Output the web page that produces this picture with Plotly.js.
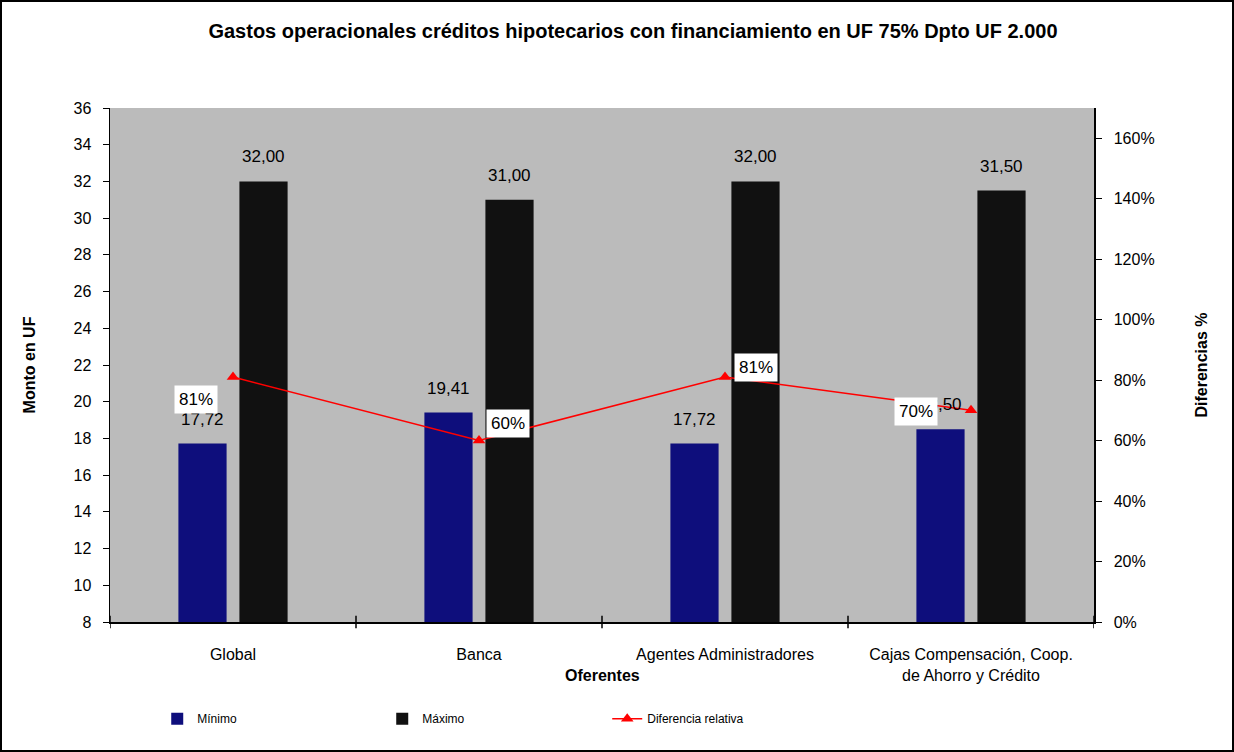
<!DOCTYPE html>
<html>
<head>
<meta charset="utf-8">
<script src="https://cdn.plot.ly/plotly-3.0.1.min.js"></script>
<style>
html,body{margin:0;padding:0;background:#fff;}
#wrap{position:relative;width:1234px;height:752px;}
#chart{width:1234px;height:752px;}
#frame{position:absolute;left:0;top:0;width:1234px;height:752px;box-sizing:border-box;border:2px solid #000;pointer-events:none;}
</style>
</head>
<body>
<div id="wrap"><div id="chart"></div><div id="frame"></div></div>
<script>
const categories = ["Global", "Banca", "Agentes Administradores", "Cajas Compensación, Coop.<br>de Ahorro y Crédito"];
const minimo = [17.72, 19.41, 17.72, 18.50];
const maximo = [32.00, 31.00, 32.00, 31.50];
const diferencia = [0.81, 0.60, 0.81, 0.70];
const seriesNames = ["Mínimo", "Máximo", "Diferencia relativa"];
const leftTicks = [8,10,12,14,16,18,20,22,24,26,28,30,32,34,36];
const rightTicks = [0,0.2,0.4,0.6,0.8,1.0,1.2,1.4,1.6];

const FONT = "Liberation Sans, Arial, sans-serif";
const idx = categories.map((c,i)=>i);

const traces = [
  {type:"bar", name:seriesNames[0], x:idx, y:minimo, marker:{color:"#0E0E7C"}, hoverinfo:"y"},
  {type:"bar", name:seriesNames[1], x:idx, y:maximo, marker:{color:"#111111"}, hoverinfo:"y"},
  {type:"scatter", mode:"lines+markers", name:seriesNames[2], x:idx, y:diferencia, yaxis:"y2",
   line:{color:"#FF0000", width:1.5}, marker:{symbol:"triangle-up", size:11, color:"#FF0000"}}
];

const fmt = v => v.toFixed(2).replace(".", ",");
const annotations = [];
const off = 0.124;
minimo.forEach((v,i)=>annotations.push({x:i-off, y:v, xref:"x", yref:"y", text:fmt(v), showarrow:false, yanchor:"bottom", yshift:13, font:{size:17, color:"#000"}}));
maximo.forEach((v,i)=>annotations.push({x:i+off, y:v, xref:"x", yref:"y", text:fmt(v), showarrow:false, yanchor:"bottom", yshift:13, font:{size:17, color:"#000"}}));
const pctShift = [[-37,-22],[29,17],[31,10],[-55,-1]];
diferencia.forEach((v,i)=>annotations.push({x:i, y:v, xref:"x", yref:"y2", text:Math.round(v*100)+"%", showarrow:false,
  xshift:pctShift[i][0], yshift:pctShift[i][1], bgcolor:"#FFFFFF", borderpad:4, font:{size:17, color:"#000"}}));
annotations.push({x:0.5, y:-0.125, xref:"paper", yref:"paper", text:"<b>Oferentes</b>", showarrow:false, font:{size:16, color:"#000"}});

const layout = {
  width:1234, height:752,
  margin:{l:110, r:140, t:108, b:130},
  paper_bgcolor:"#FFFFFF", plot_bgcolor:"#BBBBBB",
  font:{family:FONT, color:"#000", size:16},
  separators:",.",
  title:{text:"<b>Gastos operacionales créditos hipotecarios con financiamiento en UF 75% Dpto UF 2.000</b>",
    x:0.5315, xref:"paper", xanchor:"center", y:0.968, yref:"container", font:{size:20, family:FONT, color:"#000"}},
  barmode:"group", bargap:0.504, bargroupgap:0.21,
  xaxis:{type:"linear", tickmode:"array", tickvals:idx, ticktext:categories, range:[-0.5, 3.5],
    showgrid:false, zeroline:false, showline:true, linecolor:"#000", linewidth:1.5,
    ticks:"", ticklabelstandoff:17, tickfont:{size:16}, fixedrange:true},
  yaxis:{range:[8,36], tickvals:leftTicks, showgrid:false, zeroline:false, showline:true, linecolor:"#000", linewidth:1.5,
    ticks:"outside", ticklen:6, tickcolor:"#000", ticklabelstandoff:8, tickfont:{size:16},
    title:{text:"<b>Monto en UF</b>", standoff:34, font:{size:16}}},
  yaxis2:{overlaying:"y", side:"right", range:[0,1.7], tickvals:rightTicks, tickformat:".0%", showgrid:false, zeroline:false,
    showline:true, linecolor:"#000", linewidth:1.5, ticks:"outside", ticklen:6, tickcolor:"#000", ticklabelstandoff:9, tickfont:{size:16},
    title:{text:"<b>Diferencias %</b>", standoff:42, font:{size:16}}},
  showlegend:true,
  legend:{orientation:"h", x:0.048, xanchor:"left", y:-0.16, yanchor:"top", font:{size:12, color:"#000"},
    entrywidth:180, entrywidthmode:"pixels", traceorder:"normal", bgcolor:"rgba(0,0,0,0)"},
  annotations:annotations,
  shapes: idx.concat([4]).map(i=>({type:"line", xref:"x", yref:"paper", x0:i-0.5, x1:i-0.5, y0:-0.012, y1:0.012, line:{color:"#000", width:1.5}}))
};

Plotly.newPlot("chart", traces, layout, {displayModeBar:false, staticPlot:true});
</script>
</body>
</html>
